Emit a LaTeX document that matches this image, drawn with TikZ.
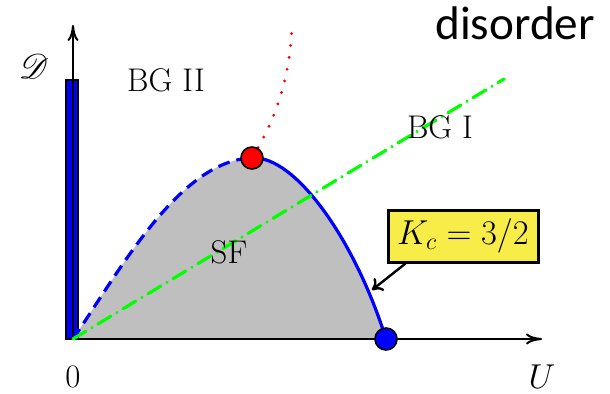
\documentclass[tikz,border=0pt]{standalone}
\usepackage{fontspec}
\usepackage{mathrsfs}
\newfontfamily\calibri{Carlito}
\usetikzlibrary{arrows.meta}
\definecolor{boxyellow}{RGB}{248,236,72}
\definecolor{pure green}{RGB}{0,255,0}
\begin{document}
\begin{tikzpicture}[x=0.5pt,y=-0.5pt,
  lbl/.style={font=\fontsize{16.4}{19}\selectfont, inner sep=0pt},
  axisline/.style={line width=1pt, -{Computer Modern Rightarrow[length=8pt,width=5.5pt]}},
  crit/.style={circle, draw=black, line width=0.8pt, minimum size=11pt, inner sep=0pt},
  bluedash/.style={blue, line width=1.6pt, dash pattern=on 6pt off 3.5pt},
  bluesolid/.style={blue, line width=1.6pt},
  reddot/.style={red, line width=1.6pt, dash pattern=on 0pt off 6pt, line cap=round},
  greendd/.style={pure green, line width=1.6pt, dash pattern=on 7.5pt off 3.5pt on 0.1pt off 3.5pt, line cap=round},
  kcbox/.style={draw=black, line width=1.5pt, fill=boxyellow, minimum width=75pt, minimum height=26pt, inner sep=0pt, font=\fontsize{16.5}{19}\selectfont},
  pointer/.style={line width=1.2pt, -{Computer Modern Rightarrow[length=5pt,width=8pt]}}]
\useasboundingbox (0,0) rectangle (610,393);
\coordinate (O) at (73,339);
\coordinate (ytop) at (73,25);
\coordinate (xend) at (542,339);
\coordinate (peak) at (252,158);
\coordinate (ucrit) at (386,339);
\coordinate (redend) at (292,25);
\coordinate (greenend) at (504,79);
\coordinate (kctip) at (372,290);
% gray superfluid region
\fill[black!25] (O) .. controls (120,270) and (180,160) .. (peak)
  .. controls (295,155) and (355,240) .. (ucrit) -- cycle;
% blue bar on vertical axis
\filldraw[fill=blue, draw=black, line width=0.6pt] (66,80) rectangle (78,339);
% axes
\draw[axisline] (O) -- (ytop);
\draw[axisline] (67,339) -- (xend);
% boundaries
\draw[bluedash] (O) .. controls (120,270) and (180,160) .. (peak);
\draw[bluesolid] (peak) .. controls (295,155) and (355,240) .. (ucrit);
\draw[reddot] (peak) .. controls (275,120) and (290,80) .. (redend);
\draw[greendd] (O) -- (greenend);
% critical points
\node[crit, fill=red] (rp) at (peak) {};
\node[crit, fill=blue] (bp) at (ucrit) {};
% labels
\node[lbl] (bg2) at (166,80) {BG II};
\node[lbl] (bg1) at (440,127) {BG I};
\node[lbl] (sf) at (229,252) {SF};
\node[lbl] (zero) at (73,377) {0};
\node[lbl] (ulab) at (542,377) {$U$};
\node[lbl] (dlab) at (34,66) {$\mathscr{D}$};
\node[font=\calibri\fontsize{23.6}{28}\selectfont, anchor=base, inner sep=0pt] (dis) at (515,39) {disorder};
% Kc box
\node[kcbox] (kc) at (463,236) {$K_c = 3/2$};
\draw[pointer] ([xshift=9.5pt]kc.south west) -- (kctip);
\end{tikzpicture}
\end{document}
